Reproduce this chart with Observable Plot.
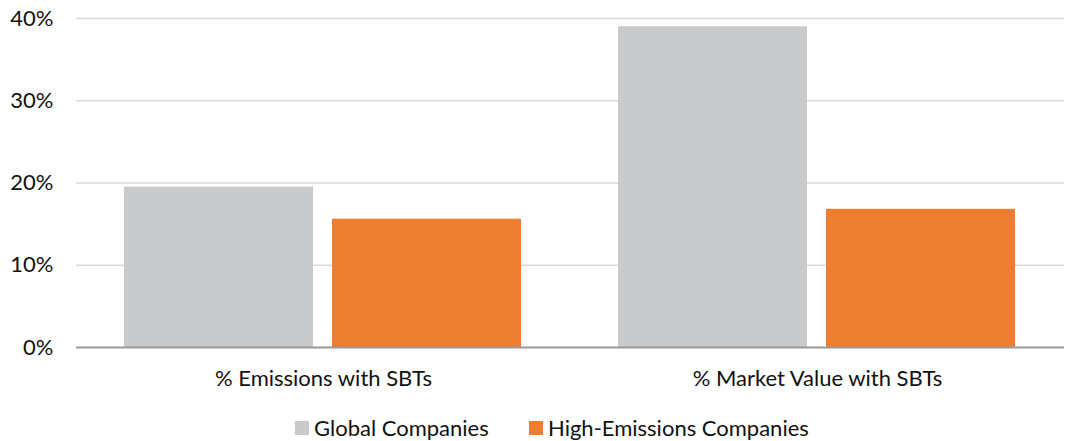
<!DOCTYPE html>
<html>
<head>
<meta charset="utf-8">
<script src="https://cdn.jsdelivr.net/npm/d3@7"></script>
<script src="https://cdn.jsdelivr.net/npm/@observablehq/plot@0.6"></script>
<style>
  body { margin: 0; background: #fff; font-family: Lato, "Open Sans", sans-serif; }
  #chart { width: 1065px; }
  .legend { position: relative; height: 31px; font-family: Lato, sans-serif; font-size: 22px; color: #111; }
  .legend .item { position: absolute; top: 4px; display: flex; align-items: center; height: 27px; }
  .legend .sw { width: 14px; height: 14px; margin-right: 5px; }
</style>
</head>
<body>
<div id="chart"></div>
<script>
const categories = ["% Emissions with SBTs", "% Market Value with SBTs"];
const seriesNames = ["Global Companies", "High-Emissions Companies"];
const globalValues = [19.5, 39.0];
const highEmissionValues = [15.6, 16.8];
const yTicks = [0, 10, 20, 30, 40];
const colors = ["#C9CACC", "#ED7D31"];

const data = [];
categories.forEach((c, i) => {
  data.push({category: c, series: seriesNames[0], value: globalValues[i]});
  data.push({category: c, series: seriesNames[1], value: highEmissionValues[i]});
});

const chart = Plot.plot({
  width: 1065,
  height: 410,
  marginTop: 18,
  marginBottom: 63,
  marginLeft: 75,
  marginRight: 1,
  style: {fontFamily: "Lato, sans-serif", fontSize: "22px", color: "#111", background: "#fff"},
  fx: {domain: categories, paddingInner: 0, paddingOuter: 0, label: null, tickSize: 0, tickPadding: 23},
  x: {domain: seriesNames, paddingInner: 0.0909, paddingOuter: 0.2297, axis: null},
  y: {domain: [0, 40], ticks: yTicks, tickFormat: d => d + "%", label: null, tickSize: 0, tickPadding: 23},
  color: {domain: seriesNames, range: colors},
  marks: [
    Plot.gridY(yTicks.filter(d => d > 0), {stroke: "#d9d9d9", strokeOpacity: 1, strokeWidth: 1.3}),
    Plot.barY(data, {fx: "category", x: "series", y: "value", fill: "series"}),
    Plot.ruleY([0], {stroke: "#999999", strokeWidth: 2})
  ]
});
document.getElementById("chart").appendChild(chart);

const legend = document.createElement("div");
legend.className = "legend";
const positions = [295, 529];
seriesNames.forEach((s, i) => {
  const item = document.createElement("div");
  item.className = "item";
  item.style.left = positions[i] + "px";
  const sw = document.createElement("div");
  sw.className = "sw";
  sw.style.background = colors[i];
  const t = document.createElement("span");
  t.textContent = s;
  item.appendChild(sw);
  item.appendChild(t);
  legend.appendChild(item);
});
document.body.appendChild(legend);
</script>
</body>
</html>
